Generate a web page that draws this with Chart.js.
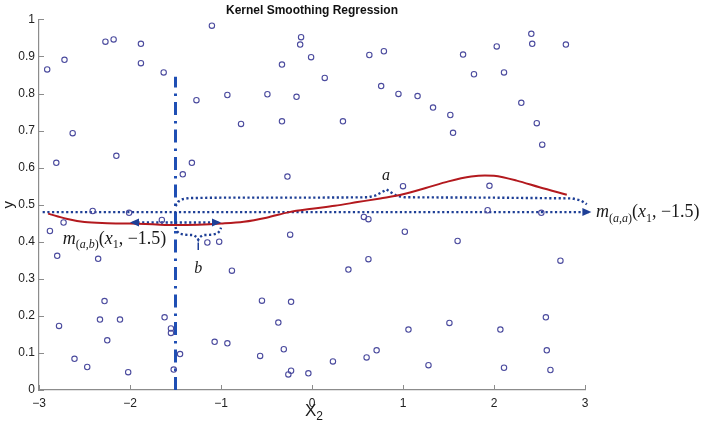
<!DOCTYPE html>
<html>
<head>
<meta charset="utf-8">
<title>Kernel Smoothing Regression</title>
<script src="https://cdn.jsdelivr.net/npm/chart.js@4.4.1/dist/chart.umd.min.js"></script>
<style>
html,body{margin:0;padding:0;background:#fff;}
#wrap{width:704px;height:430px;}
</style>
</head>
<body>
<div id="wrap"><canvas id="chart" width="704" height="430"></canvas></div>
<script>
// tick labels
const xTicks=[-3,-2,-1,0,1,2,3];
const yTicks=[0,0.1,0.2,0.3,0.4,0.5,0.6,0.7,0.8,0.9,1];

// sample points (x2, y)
const sampleX=[-2.91,-2.72,-2.63,-2.81,-2.27,-2.18,-2.15,-1.88,-1.88,-1.63,-1.10,-1.27,-0.93,-0.78,-1.32,-1.42,-0.49,-0.33,-0.33,-0.17,
  -0.12,-0.13,-0.01,0.14,0.34,-0.27,0.63,0.79,0.76,0.95,1.16,1.33,1.52,1.55,1.66,1.78,1.00,2.03,2.11,2.41,
  2.42,2.79,2.30,2.47,2.53,1.95,-2.88,-2.73,-2.41,-2.01,-1.65,-2.80,-2.35,-2.28,-2.78,-2.33,-2.11,-2.25,-2.61,-2.47,
  -2.02,-1.62,-1.55,-1.55,-1.45,-1.52,-1.15,-1.02,-0.88,-1.07,-0.93,-0.24,-0.55,-0.23,-0.37,-0.57,-0.31,-0.23,-0.26,-0.04,
  0.23,0.57,0.62,1.02,1.60,0.40,0.62,1.06,1.51,0.60,0.71,1.28,2.73,2.57,2.07,2.58,2.11,2.62,1.93,2.52];
const sampleY=[0.865,0.891,0.693,0.613,0.940,0.946,0.632,0.934,0.882,0.857,0.983,0.782,0.796,0.718,0.613,0.582,0.798,0.878,0.725,0.791,
  0.952,0.932,0.898,0.842,0.725,0.576,0.904,0.914,0.820,0.799,0.793,0.762,0.742,0.694,0.905,0.852,0.550,0.927,0.857,0.961,
  0.934,0.932,0.775,0.720,0.662,0.551,0.429,0.452,0.483,0.478,0.459,0.362,0.354,0.240,0.173,0.190,0.190,0.134,0.084,0.062,
  0.048,0.196,0.166,0.154,0.097,0.055,0.398,0.400,0.322,0.130,0.126,0.419,0.241,0.238,0.182,0.092,0.110,0.052,0.042,0.045,
  0.077,0.467,0.461,0.427,0.402,0.325,0.353,0.163,0.181,0.088,0.107,0.067,0.349,0.196,0.163,0.107,0.060,0.054,0.485,0.478];

// kernel regression fit
const fitX=[-2.9,-2.7,-2.5,-2.25,-2.0,-1.75,-1.5,-1.25,-1.0,-0.75,-0.5,-0.25,0,0.25,0.5,0.75,1.0,1.25,1.5,1.75,1.9,2.0,2.25,2.5,2.8];
const fitY=[0.476,0.462,0.453,0.450,0.449,0.447,0.445,0.446,0.449,0.454,0.465,0.480,0.489,0.497,0.507,0.517,0.528,0.545,0.563,0.576,0.579,0.578,0.565,0.547,0.527];

// cut at x2 = -1.5
const cutX=[-1.5,-1.5];
const cutY=[0,0.845];

// long dotted arrow to m(a,a)
const lineAX=[-2.96,3.04];
const lineAY=[0.48,0.48];
// brace a
const braceAX=[-1.5,-1.47,-1.42,-1.35,-1.0,0.0,0.62,0.7,0.77,0.82,0.87,0.93,1.02,2.0,2.86,2.96,3.02,3.06];
const braceAY=[0.496,0.508,0.515,0.518,0.519,0.519,0.520,0.525,0.534,0.541,0.533,0.524,0.520,0.519,0.517,0.511,0.501,0.488];
// short double arrow m(a,b)
const spanBX=[-1.97,-1.03];
const spanBY=[0.452,0.452];
// brace b
const braceBX=[-1.5,-1.49,-1.46,-1.4,-1.3,-1.27,-1.25,-1.23,-1.2,-1.1,-1.04,-1.01,-1.0];
const braceBY=[0.44,0.43,0.422,0.419,0.418,0.413,0.405,0.413,0.418,0.419,0.422,0.43,0.438];
const stemBX=[-1.25,-1.25];
const stemBY=[0.398,0.378];

const DOT='#1e3f96';
function pts(xs,ys){return xs.map((x,i)=>({x,y:ys[i]}));}
function dotted(xs,ys,extra){return Object.assign({data:pts(xs,ys),showLine:true,pointRadius:0,borderColor:DOT,borderWidth:2.4,borderDash:[2.2,2.5],tension:0,clip:false},extra||{});}

function arrowHead(ctx,px,py,dir){
  ctx.beginPath();ctx.moveTo(px,py);ctx.lineTo(px-dir*9,py-4);ctx.lineTo(px-dir*9,py+4);ctx.closePath();ctx.fill();
}
function drawMath(ctx,parts,x,y,size,align){
  const sub=Math.round(size*0.68);
  const fontOf=p=>(p[1]?'italic ':'')+(p[2]?sub:size)+'px "Liberation Serif"';
  let w=0;parts.forEach(p=>{ctx.font=fontOf(p);w+=ctx.measureText(p[0]).width;});
  let cx=align==='center'?x-w/2:x;
  ctx.textAlign='left';ctx.textBaseline='alphabetic';
  parts.forEach(p=>{ctx.font=fontOf(p);ctx.fillText(p[0],cx,y+(p[2]?size*0.25:0));cx+=ctx.measureText(p[0]).width;});
}
const mAA=[['m',1,0],['(',0,1],['a',1,1],[',',0,1],['a',1,1],[')',0,1],['(',0,0],['x',1,0],['1',0,1],[', \u22121.5)',0,0]];
const mAB=[['m',1,0],['(',0,1],['a',1,1],[',',0,1],['b',1,1],[')',0,1],['(',0,0],['x',1,0],['1',0,1],[', \u22121.5)',0,0]];

const marks={
  id:'marks',
  afterDraw(chart){
    const {ctx,chartArea:a,scales:{x,y}}=chart;
    ctx.save();
    ctx.strokeStyle='#8c8c8c';ctx.lineWidth=1;
    xTicks.forEach(v=>{const px=Math.round(x.getPixelForValue(v))+.5;ctx.beginPath();ctx.moveTo(px,a.bottom);ctx.lineTo(px,a.bottom-5);ctx.stroke();});
    yTicks.forEach(v=>{const py=Math.round(y.getPixelForValue(v))+.5;ctx.beginPath();ctx.moveTo(a.left,py);ctx.lineTo(a.left+5,py);ctx.stroke();});
    ctx.fillStyle=DOT;
    arrowHead(ctx,x.getPixelForValue(3.07),y.getPixelForValue(lineAY[1]),1);
    arrowHead(ctx,x.getPixelForValue(-2.0),y.getPixelForValue(spanBY[0]),-1);
    arrowHead(ctx,x.getPixelForValue(-1.0),y.getPixelForValue(spanBY[1]),1);
    ctx.fillStyle='#1a1a1a';
    drawMath(ctx,mAA,x.getPixelForValue(3.12),y.getPixelForValue(0.466),18,'left');
    drawMath(ctx,mAB,x.getPixelForValue(-2.74),y.getPixelForValue(0.394),18,'left');
    drawMath(ctx,[['a',1,0]],x.getPixelForValue(0.813),y.getPixelForValue(0.567),16,'center');
    drawMath(ctx,[['b',1,0]],x.getPixelForValue(-1.25),y.getPixelForValue(0.316),16,'center');
    // axis titles
    ctx.font='17px "Liberation Sans"';
    const wX=ctx.measureText('X').width;ctx.font='12px "Liberation Sans"';const w2=ctx.measureText('2').width;
    const lx=(a.left+a.right)/2+2-(wX+w2)/2;
    ctx.textAlign='left';ctx.textBaseline='alphabetic';
    ctx.font='17px "Liberation Sans"';ctx.fillText('X',lx,416);
    ctx.font='12px "Liberation Sans"';ctx.fillText('2',lx+wX,420);
    ctx.translate(9,y.getPixelForValue(0.5));ctx.rotate(-Math.PI/2);
    ctx.font='15px "Liberation Sans"';ctx.textAlign='center';ctx.textBaseline='middle';ctx.fillText('y',0,0);
    ctx.restore();
  }
};

const tickFont={family:'Liberation Sans',size:12};
new Chart(document.getElementById('chart'),{
  type:'scatter',
  data:{datasets:[
    {data:pts(sampleX,sampleY),pointRadius:2.7,pointBorderWidth:1.1,pointBorderColor:'#4b4b9e',pointBackgroundColor:'rgba(0,0,0,0)',showLine:false},
    {data:pts(fitX,fitY),showLine:true,pointRadius:0,borderColor:'#b3191e',borderWidth:2,cubicInterpolationMode:'monotone'},
    dotted(spanBX,spanBY),
    dotted(lineAX,lineAY),
    dotted(braceAX,braceAY),
    dotted(braceBX,braceBY),
    {data:pts(stemBX,stemBY),showLine:true,pointRadius:0,borderColor:DOT,borderWidth:1.5},
    {data:pts(cutX,cutY),showLine:true,pointRadius:0,borderColor:'#1f4fb4',borderWidth:3,borderDash:[13,6,2.5,6]}
  ]},
  options:{
    responsive:false,animation:false,
    layout:{padding:{left:0,right:119,top:0,bottom:0}},
    plugins:{
      legend:{display:false},tooltip:{enabled:false},
      title:{display:true,text:'Kernel Smoothing Regression',fullSize:false,color:'#111',
        font:{family:'Liberation Sans',size:12,weight:'bold'},padding:{top:3,bottom:2}}
    },
    scales:{
      x:{type:'linear',min:-3,max:3,
        afterBuildTicks:s=>{s.ticks=xTicks.map(v=>({value:v}));},
        afterFit:s=>{s.height=40;},
        ticks:{font:tickFont,color:'#222',padding:6,maxRotation:0,callback:v=>v<0?'\u2212'+Math.abs(v):String(v)},
        grid:{display:false,drawTicks:false},border:{color:'#8c8c8c',width:1.2}},
      y:{type:'linear',min:0,max:1,
        afterBuildTicks:s=>{s.ticks=yTicks.map(v=>({value:v}));},
        afterFit:s=>{s.width=39;},
        ticks:{font:tickFont,color:'#222',padding:4,callback:v=>String(+v.toFixed(1))},
        grid:{display:false,drawTicks:false},border:{color:'#8c8c8c',width:1.2}}
    }
  },
  plugins:[marks]
});
</script>
</body>
</html>
